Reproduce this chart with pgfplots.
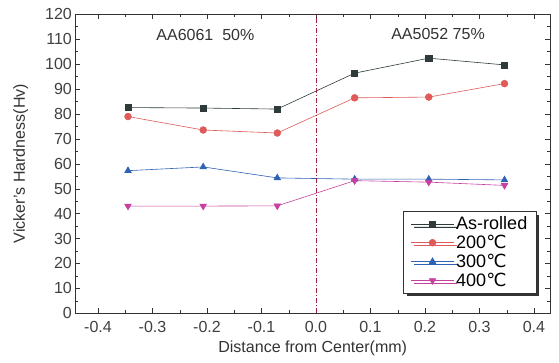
\documentclass[border=0pt]{standalone}
\usepackage{pgfplots}
\pgfplotsset{compat=1.18}
\usepackage{fontspec}
\setmainfont{Liberation Sans}
\newfontfamily\symf{DejaVu Sans}
\newcommand{\degC}{{\symf ℃}}
\usetikzlibrary{shadows}
\definecolor{cA}{HTML}{2F3A3A}
\definecolor{cB}{HTML}{E05A5A}
\definecolor{cC}{HTML}{2F62B5}
\definecolor{cD}{HTML}{C8409E}
\definecolor{cV}{HTML}{A02040}
\begin{document}
\begin{tikzpicture}
\begin{axis}[
  name=ax,
  scale only axis,
  width=474pt, height=299pt,
  xmin=-0.4415, xmax=0.4295,
  ymin=0, ymax=120,
  xtick={-0.4,-0.3,...,0.4},
  xticklabels={-0.4,-0.3,-0.2,-0.1,0.0,0.1,0.2,0.3,0.4},
  ytick={0,10,...,120},
  minor xtick={-0.35,-0.25,...,0.35},
  minor ytick={5,15,...,115},
  tick align=inside,
  major tick length=5pt, minor tick length=3pt,
  axis line style={black!80, line width=0.8pt},
  tick style={black!80},
  /pgf/number format/assume math mode=true,
  ticklabel style={font=\fontsize{16}{18}\selectfont, text=black!75},
  xticklabel style={yshift=-4pt},
  xlabel={Distance from Center(mm)},
  ylabel={Vicker's Hardness(Hv)},
  label style={font=\fontsize{16}{18}\selectfont, text=black!80},
  xlabel style={yshift=-2pt},
  ylabel style={yshift=10pt},
  legend style={at={(0.972,0.067)}, anchor=south east, font=\fontsize{18}{20}\selectfont,
    draw=black!80, line width=0.8pt, drop shadow={shadow xshift=3pt, shadow yshift=-3pt, fill=black!80, opacity=1},
    row sep=0pt, inner sep=3pt, inner xsep=7pt},
  legend cell align=left,
  legend image code/.code={\draw[mark repeat=2,mark phase=2,#1] plot coordinates {(0cm,0cm) (0.75cm,0cm) (1.5cm,0cm)};},
  every axis plot/.append style={line width=0.6pt, mark size=3.4pt},
]
\addplot[cA, mark=square*, mark options={fill=cA, scale=0.9}] coordinates {(-0.345,82.5) (-0.207,82.3) (-0.071,81.9) (0.071,96.3) (0.207,102.3) (0.346,99.6)};
\addlegendentry{As-rolled}
\addplot[cB, mark=*, mark options={fill=cB}] coordinates {(-0.345,78.9) (-0.207,73.5) (-0.071,72.3) (0.071,86.4) (0.207,86.7) (0.346,92.1)};
\addlegendentry{200\degC}
\addplot[cC, mark=triangle*, mark options={fill=cC, scale=1.1}] coordinates {(-0.345,57.2) (-0.207,58.7) (-0.071,54.3) (0.071,53.8) (0.207,53.8) (0.346,53.5)};
\addlegendentry{300\degC}
\addplot[cD, mark=triangle*, mark options={fill=cD, rotate=180, scale=1.1}] coordinates {(-0.345,43) (-0.207,43) (-0.071,43.1) (0.071,53.2) (0.207,52.6) (0.346,51.3)};
\addlegendentry{400\degC}
\draw[cV, line width=0.8pt, dash pattern=on 5pt off 2pt on 1pt off 2pt] (axis cs:0,0) -- (axis cs:0,120);
\node[font=\fontsize{16}{18}\selectfont, text=black!80] at (axis cs:-0.203,111.6) {AA6061\ \ 50\%};
\node[font=\fontsize{16}{18}\selectfont, text=black!80] at (axis cs:0.224,112) {AA5052 75\%};
\end{axis}
\path (ax.north east) ++(9pt,14pt);
\path (current bounding box.south west) ++(-10pt,-3pt);
\end{tikzpicture}
\end{document}
